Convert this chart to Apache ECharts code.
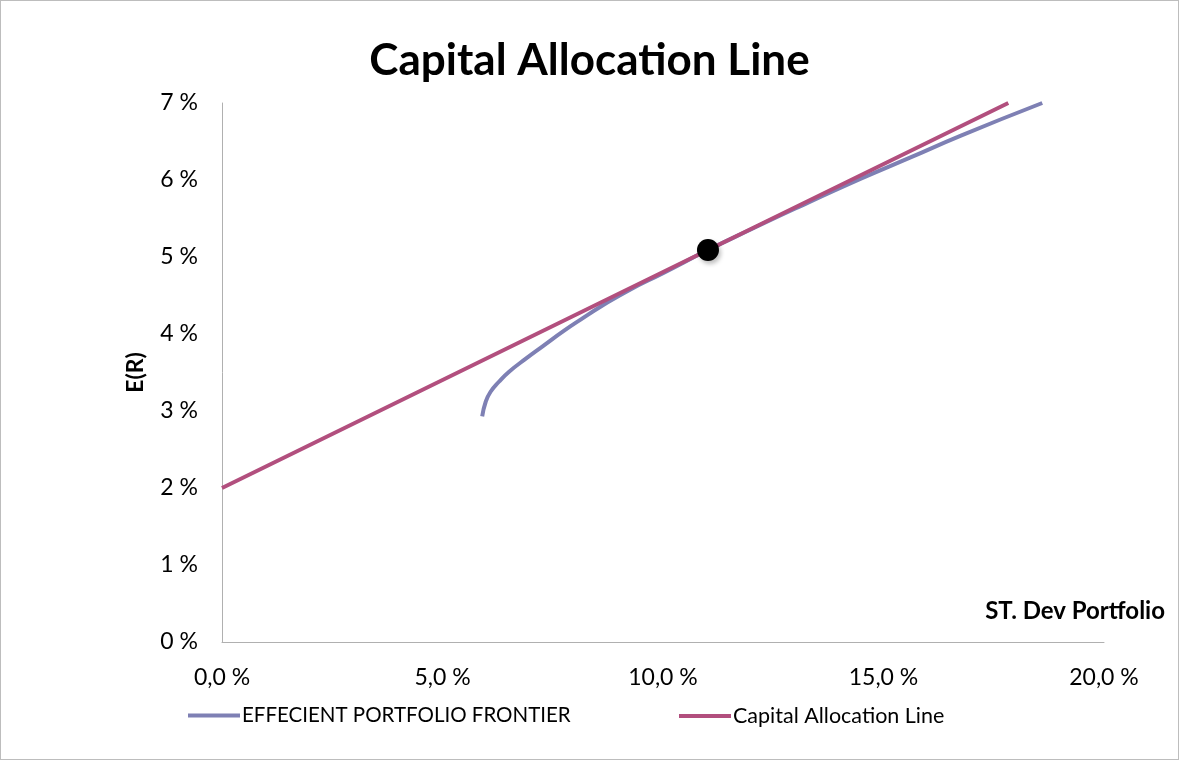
<!DOCTYPE html>
<html>
<head>
<meta charset="utf-8">
<script src="https://cdn.jsdelivr.net/npm/echarts@6/dist/echarts.min.js"></script>
<style>
  html, body { margin: 0; padding: 0; background: #fff; }
  #chart { width: 1177px; height: 758px; border: 1px solid #bdbdbd; }
</style>
</head>
<body>
<div id="chart"></div>
<script>
// Efficient frontier: [standard deviation %, expected return %]
const frontierPoints = [
  [5.90, 2.93], [5.98, 3.12], [6.09, 3.25], [6.28, 3.38], [6.51, 3.51],
  [6.89, 3.68], [7.27, 3.84], [7.75, 4.04], [8.14, 4.19], [8.6, 4.36],
  [9.2, 4.56], [10.0, 4.79], [11.02, 5.09], [12.0, 5.36], [13.0, 5.63],
  [14.5, 6.02], [15.6, 6.29], [16.77, 6.58], [18.6, 7.0]
];
// Capital allocation line from the risk-free rate through the tangency portfolio
const calPoints = [[0, 2.0], [11.02, 5.09], [17.83, 7.0]];
// Tangency (optimal risky) portfolio
const tangencyPoint = [[11.02, 5.09]];

const xTicks = { min: 0, max: 20, interval: 5 };
const yTicks = { min: 0, max: 7, interval: 1 };

const font = 'Lato, "Open Sans", sans-serif';
const chart = echarts.init(document.getElementById('chart'));

chart.setOption({
  animation: false,
  title: {
    text: 'Capital Allocation Line',
    left: 'center',
    top: 33,
    textStyle: { fontFamily: font, fontWeight: 'bold', fontSize: 44, color: '#000' }
  },
  grid: { left: 221, right: 74, top: 102, bottom: 117 },
  legend: [
    {
      left: 182, top: 699, itemWidth: 52, itemHeight: 4, icon: 'rect',
      textStyle: { fontFamily: font, fontSize: 20.5, color: '#000', padding: [0, 0, 0, -3] },
      data: ['EFFECIENT PORTFOLIO FRONTIER']
    },
    {
      left: 673, top: 699, itemWidth: 52, itemHeight: 4, icon: 'rect',
      textStyle: { fontFamily: font, fontSize: 21.5, color: '#000', padding: [0, 0, 0, -3] },
      data: ['Capital Allocation Line']
    }
  ],
  xAxis: {
    type: 'value',
    min: xTicks.min, max: xTicks.max, interval: xTicks.interval,
    axisLine: { lineStyle: { color: '#b0b0b0', width: 1 } },
    axisTick: { show: false },
    splitLine: { show: false },
    axisLabel: {
      margin: 24,
      fontFamily: font, fontSize: 23, color: '#000',
      formatter: v => v.toFixed(1).replace('.', ',') + ' %'
    }
  },
  yAxis: {
    type: 'value',
    min: yTicks.min, max: yTicks.max, interval: yTicks.interval,
    name: 'E(R)',
    nameLocation: 'middle',
    nameGap: 75,
    nameTextStyle: { fontFamily: font, fontWeight: 'bold', fontSize: 23, color: '#000' },
    axisLine: { show: true, lineStyle: { color: '#b0b0b0', width: 1 } },
    axisTick: { show: false },
    splitLine: { show: false },
    axisLabel: {
      margin: 24,
      fontFamily: font, fontSize: 23, color: '#000',
      formatter: v => v + ' %'
    }
  },
  graphic: [{
    type: 'text',
    right: 13,
    top: 598,
    style: { text: 'ST. Dev Portfolio', font: 'bold 24px ' + font, fill: '#000' }
  }],
  series: [
    {
      name: 'EFFECIENT PORTFOLIO FRONTIER',
      type: 'line',
      data: frontierPoints,
      smooth: 0.5,
      showSymbol: false,
      color: '#7e80b4',
      lineStyle: { width: 4, color: '#7e80b4' },
      z: 2
    },
    {
      name: 'Capital Allocation Line',
      type: 'line',
      data: calPoints,
      showSymbol: false,
      color: '#b24f7e',
      lineStyle: { width: 4, color: '#b24f7e' },
      z: 3
    },
    {
      name: 'Tangency',
      type: 'scatter',
      data: tangencyPoint,
      symbolSize: 22,
      itemStyle: {
        color: '#000',
        opacity: 1,
        shadowColor: 'rgba(0,0,0,0.25)',
        shadowBlur: 4,
        shadowOffsetX: 2,
        shadowOffsetY: 3
      },
      emphasis: { disabled: true },
      z: 5
    }
  ]
});
</script>
</body>
</html>
